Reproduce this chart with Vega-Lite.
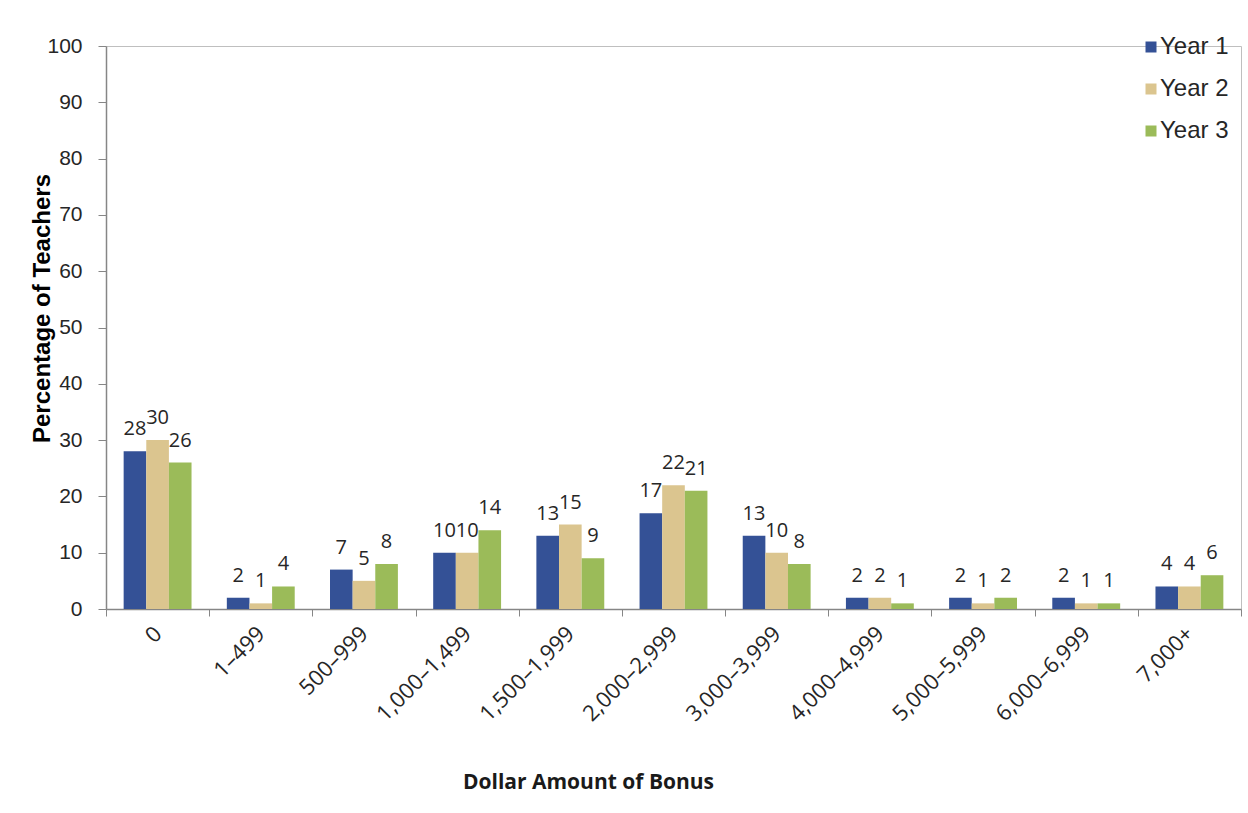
{
  "$schema": "https://vega.github.io/schema/vega-lite/v6.json",
  "width": 1135,
  "height": 563,
  "autosize": {"type": "none"},
  "padding": {"left": 106, "top": 46, "right": 7, "bottom": 204},
  "background": "white",
  "config": {
    "view": {"stroke": "#bfbfbf", "strokeWidth": 1},
    "axis": {"grid": false}
  },
  "data": {
    "values": [
      {"bonus": "0", "year": "Year 1", "value": 28},
      {"bonus": "0", "year": "Year 2", "value": 30},
      {"bonus": "0", "year": "Year 3", "value": 26},
      {"bonus": "1–499", "year": "Year 1", "value": 2},
      {"bonus": "1–499", "year": "Year 2", "value": 1},
      {"bonus": "1–499", "year": "Year 3", "value": 4},
      {"bonus": "500–999", "year": "Year 1", "value": 7},
      {"bonus": "500–999", "year": "Year 2", "value": 5},
      {"bonus": "500–999", "year": "Year 3", "value": 8},
      {"bonus": "1,000–1,499", "year": "Year 1", "value": 10},
      {"bonus": "1,000–1,499", "year": "Year 2", "value": 10},
      {"bonus": "1,000–1,499", "year": "Year 3", "value": 14},
      {"bonus": "1,500–1,999", "year": "Year 1", "value": 13},
      {"bonus": "1,500–1,999", "year": "Year 2", "value": 15},
      {"bonus": "1,500–1,999", "year": "Year 3", "value": 9},
      {"bonus": "2,000–2,999", "year": "Year 1", "value": 17},
      {"bonus": "2,000–2,999", "year": "Year 2", "value": 22},
      {"bonus": "2,000–2,999", "year": "Year 3", "value": 21},
      {"bonus": "3,000–3,999", "year": "Year 1", "value": 13},
      {"bonus": "3,000–3,999", "year": "Year 2", "value": 10},
      {"bonus": "3,000–3,999", "year": "Year 3", "value": 8},
      {"bonus": "4,000–4,999", "year": "Year 1", "value": 2},
      {"bonus": "4,000–4,999", "year": "Year 2", "value": 2},
      {"bonus": "4,000–4,999", "year": "Year 3", "value": 1},
      {"bonus": "5,000–5,999", "year": "Year 1", "value": 2},
      {"bonus": "5,000–5,999", "year": "Year 2", "value": 1},
      {"bonus": "5,000–5,999", "year": "Year 3", "value": 2},
      {"bonus": "6,000–6,999", "year": "Year 1", "value": 2},
      {"bonus": "6,000–6,999", "year": "Year 2", "value": 1},
      {"bonus": "6,000–6,999", "year": "Year 3", "value": 1},
      {"bonus": "7,000+", "year": "Year 1", "value": 4},
      {"bonus": "7,000+", "year": "Year 2", "value": 4},
      {"bonus": "7,000+", "year": "Year 3", "value": 6}
    ]
  },
  "encoding": {
    "x": {
      "field": "bonus",
      "type": "nominal",
      "sort": null,
      "scale": {"paddingInner": 0, "paddingOuter": 0},
      "axis": {
        "title": "Dollar Amount of Bonus",
        "titleFont": "Open Sans",
        "titleFontSize": 21,
        "titleFontWeight": "bold",
        "titleColor": "#1a1a1a",
        "titleX": 482,
        "titleY": 173,
        "titleBaseline": "middle",
        "titleAnchor": "middle",
        "labelAngle": -45,
        "labelAlign": "right",
        "labelBaseline": "middle",
        "labelFont": "Open Sans",
        "labelFontSize": 22,
        "labelColor": "#262626",
        "labelPadding": 14,
        "tickBand": "extent",
        "tickSize": 7,
        "tickColor": "#868686",
        "domainColor": "#868686",
        "domainWidth": 1.5
      }
    },
    "xOffset": {
      "field": "year",
      "type": "nominal",
      "scale": {"paddingInner": 0, "paddingOuter": 0.78}
    },
    "y": {
      "field": "value",
      "type": "quantitative",
      "scale": {"domain": [0, 100], "nice": false},
      "axis": {
        "values": [0, 10, 20, 30, 40, 50, 60, 70, 80, 90, 100],
        "title": "Percentage of Teachers",
        "titleFont": "Liberation Sans",
        "titleFontSize": 24,
        "titleFontWeight": "bold",
        "titleColor": "#000000",
        "titleX": -64,
        "titleY": 262,
        "titleAnchor": "middle",
        "titleBaseline": "middle",
        "titleAngle": -90,
        "labelFont": "Liberation Sans",
        "labelFontSize": 21,
        "labelColor": "#262626",
        "labelPadding": 16,
        "tickSize": 8,
        "tickColor": "#868686",
        "domainColor": "#868686",
        "domainWidth": 1.5
      }
    }
  },
  "layer": [
    {
      "mark": {"type": "bar"},
      "encoding": {
        "color": {
          "field": "year",
          "type": "nominal",
          "scale": {"domain": ["Year 1", "Year 2", "Year 3"], "range": ["#345196", "#DBC58F", "#9BBB59"]},
          "legend": {
            "title": null,
            "orient": "none",
            "legendX": 1033,
            "legendY": -11,
            "symbolType": "square",
            "symbolSize": 121,
            "symbolStrokeWidth": 0,
            "labelFont": "Liberation Sans",
            "labelFontSize": 24,
            "labelColor": "#262626",
            "labelOffset": -3,
            "rowPadding": 18,
            "padding": 0
          }
        }
      }
    },
    {
      "mark": {"type": "text", "baseline": "middle", "dy": -22, "font": "Open Sans", "fontSize": 20, "color": "#262626"},
      "encoding": {
        "text": {"field": "value", "type": "quantitative"}
      }
    }
  ]
}
